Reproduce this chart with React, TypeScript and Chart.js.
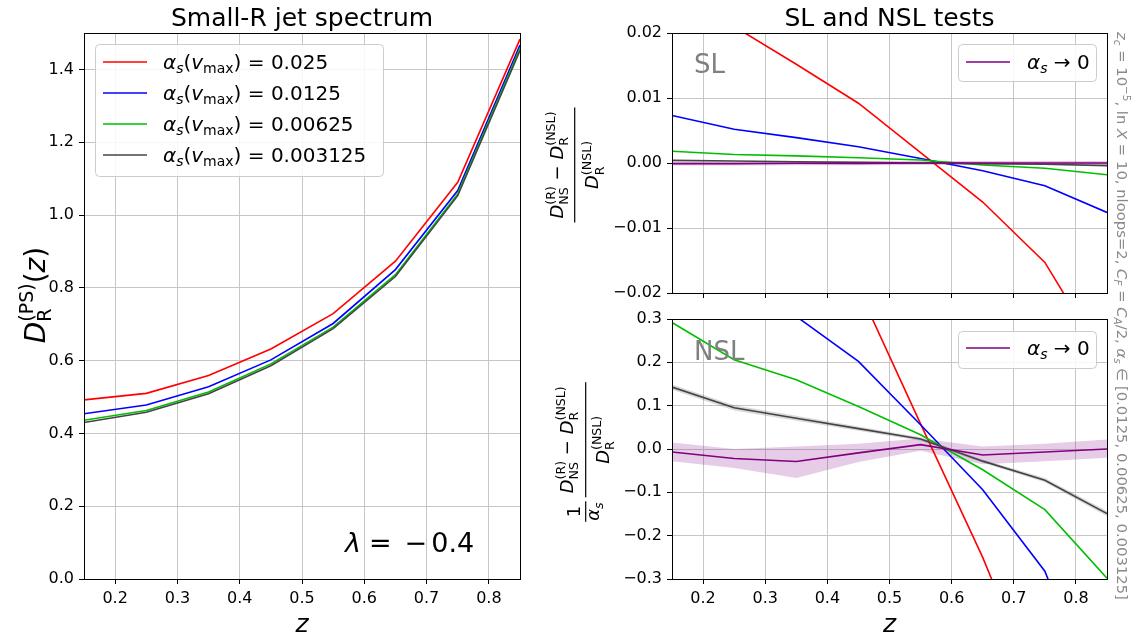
import React, { useEffect, useRef } from 'react';
import { Chart, registerables } from 'chart.js';

Chart.register(...registerables);

const W = 1134;
const H = 639;
const FAM = '"DejaVu Sans", "Liberation Sans", sans-serif';
const GRID = '#c6c6c6';

// ---------- data ----------
const zValues = [0.15, 0.25, 0.35, 0.45, 0.55, 0.65, 0.75, 0.85];
const alphaLabels = ['0.025', '0.0125', '0.00625', '0.003125'];
const seriesColors = ['#ff0000', '#0000ff', '#00bf00', '#444444'];
const limitColor = '#800080';

const spectrum025 = [0.492, 0.510, 0.559, 0.632, 0.729, 0.873, 1.090, 1.483];
const spectrum0125 = [0.454, 0.478, 0.528, 0.602, 0.702, 0.850, 1.067, 1.467];
const spectrum00625 = [0.436, 0.463, 0.514, 0.591, 0.692, 0.836, 1.058, 1.458];
const spectrum003125 = [0.430, 0.458, 0.509, 0.586, 0.688, 0.831, 1.053, 1.452];

const sl025 = [0.027, 0.021, 0.0152, 0.0092, 0.0016, -0.006, -0.0153, -0.031];
const sl0125 = [0.0073, 0.0052, 0.0039, 0.0025, 0.0007, -0.0012, -0.0035, -0.0076];
const sl00625 = [0.0018, 0.0013, 0.0011, 0.0008, 0.00045, -0.0003, -0.0008, -0.0018];
const sl003125 = [0.0004, 0.0003, 0.0002, 0.0001, 0.0, -0.0001, -0.0002, -0.0004];
const slLimit = [-0.0001, -0.0001, -0.00005, -0.00005, 0, 0, 0, 0];
const slLimitUpper = [0.0002, 0.0002, 0.00025, 0.00025, 0.0003, 0.0003, 0.0003, 0.0003];
const slLimitLower = [-0.0004, -0.0004, -0.00035, -0.00035, -0.0003, -0.0003, -0.0003, -0.0003];

const nsl025 = [1.3, 1.0, 0.68, 0.37, 0.058, -0.25, -0.6, -1.1];
const nsl0125 = [0.53, 0.42, 0.306, 0.202, 0.056, -0.094, -0.282, -0.64];
const nsl00625 = [0.292, 0.206, 0.16, 0.098, 0.033, -0.048, -0.14, -0.298];
const nsl003125 = [0.143, 0.095, 0.071, 0.047, 0.023, -0.028, -0.072, -0.149];
const nsl003125Upper = [0.149, 0.101, 0.077, 0.052, 0.027, -0.024, -0.067, -0.143];
const nsl003125Lower = [0.137, 0.089, 0.065, 0.042, 0.019, -0.032, -0.077, -0.155];
const nslLimit = [-0.007, -0.022, -0.029, -0.009, 0.010, -0.014, -0.007, 0.0];
const nslLimitUpper = [0.015, 0.0, 0.006, 0.012, 0.024, 0.006, 0.012, 0.022];
const nslLimitLower = [-0.028, -0.044, -0.067, -0.03, -0.004, -0.035, -0.028, -0.02];

const zTicks = [0.2, 0.3, 0.4, 0.5, 0.6, 0.7, 0.8];
const spectrumTicks = [0, 0.2, 0.4, 0.6, 0.8, 1.0, 1.2, 1.4];
const slTicks = [-0.02, -0.01, 0, 0.01, 0.02];
const nslTicks = [-0.3, -0.2, -0.1, 0, 0.1, 0.2, 0.3];

// ---------- helpers ----------
const pts = (ys: number[]) => zValues.map((x, i) => ({ x, y: ys[i] }));
const fmt = (v: number, d: number) => (v < -1e-12 ? '\u2212' : '') + Math.abs(v).toFixed(d);

type Seg = {
  t?: string; s: number; it?: boolean; dy?: number; dx?: number;
  sup?: string; sub?: string; supDy?: number; subDy?: number;
};
const fnt = (s: number, it?: boolean) => `${it ? 'italic ' : ''}${s}px ${FAM}`;
const T = (t: string, s: number, it = false, dy = 0, dx = 0): Seg => ({ t, s, it, dy, dx });
const SS = (sup: string, sub: string, s: number, supDy: number, subDy: number, it = false): Seg =>
  ({ sup, sub, s, supDy, subDy, it });

function segsWidth(ctx: CanvasRenderingContext2D, segs: Seg[]) {
  let w = 0;
  for (const g of segs) {
    ctx.font = fnt(g.s, g.it);
    w += g.dx || 0;
    if (g.sup !== undefined || g.sub !== undefined) {
      w += Math.max(g.sup ? ctx.measureText(g.sup).width : 0, g.sub ? ctx.measureText(g.sub).width : 0);
    } else {
      w += ctx.measureText(g.t || '').width;
    }
  }
  return w;
}

function drawSegs(ctx: CanvasRenderingContext2D, segs: Seg[], x: number, y: number) {
  let cx = x;
  ctx.textAlign = 'left';
  ctx.textBaseline = 'alphabetic';
  for (const g of segs) {
    cx += g.dx || 0;
    ctx.font = fnt(g.s, g.it);
    if (g.sup !== undefined || g.sub !== undefined) {
      let w = 0;
      if (g.sup) { ctx.fillText(g.sup, cx, y + (g.supDy || 0)); w = Math.max(w, ctx.measureText(g.sup).width); }
      if (g.sub) { ctx.fillText(g.sub, cx, y + (g.subDy || 0)); w = Math.max(w, ctx.measureText(g.sub).width); }
      cx += w;
    } else {
      ctx.fillText(g.t || '', cx, y + (g.dy || 0));
      cx += ctx.measureText(g.t || '').width;
    }
  }
  return cx - x;
}

function drawFrac(ctx: CanvasRenderingContext2D, num: Seg[], den: Seg[], x0: number, numY: number, denY: number, extra: number) {
  const nw = segsWidth(ctx, num);
  const dw = segsWidth(ctx, den);
  const w = Math.max(nw, dw) + extra;
  drawSegs(ctx, num, x0 + (w - nw) / 2, numY);
  drawSegs(ctx, den, x0 + (w - dw) / 2, denY);
  ctx.fillRect(x0, -0.6, w, 1.2);
  return w;
}

function fracWidth(ctx: CanvasRenderingContext2D, num: Seg[], den: Seg[], extra: number) {
  return Math.max(segsWidth(ctx, num), segsWidth(ctx, den)) + extra;
}

function legendBox(ctx: CanvasRenderingContext2D, x: number, y: number, w: number, h: number) {
  ctx.save();
  ctx.fillStyle = 'rgba(255,255,255,0.85)';
  ctx.strokeStyle = '#cccccc';
  ctx.lineWidth = 1;
  ctx.beginPath();
  if ((ctx as any).roundRect) (ctx as any).roundRect(x + 0.5, y + 0.5, w, h, 4);
  else ctx.rect(x + 0.5, y + 0.5, w, h);
  ctx.fill();
  ctx.stroke();
  ctx.restore();
}

function legendLine(ctx: CanvasRenderingContext2D, x1: number, x2: number, y: number, color: string) {
  ctx.save();
  ctx.strokeStyle = color;
  ctx.lineWidth = 1.6;
  ctx.beginPath();
  ctx.moveTo(x1, y);
  ctx.lineTo(x2, y);
  ctx.stroke();
  ctx.restore();
}

function spines(ctx: CanvasRenderingContext2D, a: any) {
  ctx.save();
  ctx.strokeStyle = '#000';
  ctx.lineWidth = 1;
  const l = Math.floor(a.left) + 0.5;
  const r = Math.floor(a.right) + 0.5;
  const t = Math.floor(a.top) + 0.5;
  const b = Math.floor(a.bottom) + 0.5;
  ctx.strokeRect(l, t, r - l, b - t);
  ctx.restore();
}

function lineDs(data: number[], color: string, order: number) {
  return { data: pts(data), borderColor: color, backgroundColor: color, borderWidth: 1.6, pointRadius: 0, fill: false, tension: 0, order, clip: 0 };
}
function bandDs(upper: number[], lower: number[], color: string, order: number) {
  return [
    { data: pts(upper), borderColor: 'rgba(0,0,0,0)', borderWidth: 0, backgroundColor: color, fill: '+1', pointRadius: 0, tension: 0, order, clip: 0 },
    { data: pts(lower), borderColor: 'rgba(0,0,0,0)', borderWidth: 0, backgroundColor: 'rgba(0,0,0,0)', fill: false, pointRadius: 0, tension: 0, order: order + 1, clip: 0 },
  ];
}

type Area = { l: number; t: number; r: number; b: number; padL: number };

function makeConfig(area: Area, yMin: number, yMax: number, yTicks: number[], yDigits: number,
  showXLabels: boolean, datasets: any[], draw: (ctx: CanvasRenderingContext2D, chart: any) => void): any {
  return {
    type: 'line',
    data: { datasets },
    options: {
      responsive: false,
      animation: false,
      devicePixelRatio: 1,
      events: [],
      layout: { padding: { left: area.padL, top: area.t, right: W - area.r, bottom: 0 } },
      plugins: { legend: { display: false }, tooltip: { enabled: false }, title: { display: false } },
      scales: {
        x: {
          type: 'linear', min: 0.15, max: 0.85,
          afterBuildTicks: (s: any) => { s.ticks = zTicks.map((v) => ({ value: v })); },
          afterFit: (s: any) => { s.height = H - area.b; },
          grid: { color: GRID, lineWidth: 1, drawTicks: true, tickLength: 5, tickColor: '#000', tickWidth: 1 },
          border: { display: true, color: '#000', width: 1 },
          ticks: {
            autoSkip: false, maxRotation: 0, minRotation: 0, padding: 5, color: '#000',
            font: { family: FAM, size: 16 },
            callback: (v: any) => (showXLabels ? fmt(Number(v), 1) : ''),
          },
        },
        y: {
          type: 'linear', min: yMin, max: yMax,
          afterBuildTicks: (s: any) => { s.ticks = yTicks.map((v) => ({ value: v })); },
          afterFit: (s: any) => { s.width = area.l - area.padL; },
          grid: { color: GRID, lineWidth: 1, drawTicks: true, tickLength: 5, tickColor: '#000', tickWidth: 1 },
          border: { display: true, color: '#000', width: 1 },
          ticks: {
            autoSkip: false, padding: 5, color: '#000',
            font: { family: FAM, size: 16 },
            callback: (v: any) => fmt(Number(v), yDigits),
          },
        },
      },
    },
    plugins: [{
      id: 'deco',
      afterDraw: (chart: any) => {
        const ctx = chart.ctx as CanvasRenderingContext2D;
        spines(ctx, chart.chartArea);
        ctx.save();
        ctx.fillStyle = '#000';
        draw(ctx, chart);
        ctx.restore();
      },
    }],
  };
}

// ---------- decorations ----------
function drawLeft(ctx: CanvasRenderingContext2D) {
  ctx.font = fnt(25);
  ctx.textAlign = 'center';
  ctx.textBaseline = 'alphabetic';
  ctx.fillText('Small-R jet spectrum', 302, 26);

  const yl: Seg[] = [T('D', 28, true), SS('(PS)', 'R', 19, -12, 6), T('(', 28), T('z', 28, true), T(')', 28)];
  ctx.save();
  ctx.translate(45, 295);
  ctx.rotate(-Math.PI / 2);
  drawSegs(ctx, yl, -segsWidth(ctx, yl) / 2, 0);
  ctx.restore();

  const xl: Seg[] = [T('z', 25, true)];
  drawSegs(ctx, xl, 302 - segsWidth(ctx, xl) / 2, 632);

  const lam: Seg[] = [T('\u03bb', 27, true), T('=', 27, false, 0, 8), T('\u2212', 27, false, 0, 13), T('0.4', 27, false, 0, 4)];
  drawSegs(ctx, lam, 345, 552);

  legendBox(ctx, 95, 44, 288, 132);
  const rows = [62, 93, 124, 155];
  alphaLabels.forEach((lab, i) => {
    legendLine(ctx, 103, 147, rows[i], seriesColors[i]);
    const segs: Seg[] = [
      T('\u03b1', 20, true), T('s', 14, true, 4), T('(', 20), T('v', 20, true), T('max', 14, false, 4),
      T(')', 20), T(' = ', 20), T(lab, 20),
    ];
    ctx.fillStyle = '#000';
    drawSegs(ctx, segs, 163, rows[i] + 7);
  });
}

function numSegs(): Seg[] {
  return [T('D', 18, true), SS('(R)', 'NS', 12.6, -7.5, 5.5), T(' \u2212 ', 18), T('D', 18, true), SS('(NSL)', 'R', 12.6, -7.5, 5.5)];
}
function denSegs(): Seg[] {
  return [T('D', 18, true), SS('(NSL)', 'R', 12.6, -7.5, 5.5)];
}

function drawSL(ctx: CanvasRenderingContext2D) {
  ctx.font = fnt(25);
  ctx.textAlign = 'center';
  ctx.textBaseline = 'alphabetic';
  ctx.fillText('SL and NSL tests', 889.5, 26);

  ctx.fillStyle = '#808080';
  ctx.font = fnt(26);
  ctx.textAlign = 'left';
  ctx.fillText('SL', 694, 73);

  ctx.fillStyle = '#000';
  legendBox(ctx, 958, 44, 138, 37);
  legendLine(ctx, 966, 1010, 62, limitColor);
  drawSegs(ctx, [T('\u03b1', 20, true), T('s', 14, true, 4), T(' \u2192 ', 20), T('0', 20)], 1027, 69);

  ctx.save();
  ctx.translate(574.7, 165);
  ctx.rotate(-Math.PI / 2);
  const w = fracWidth(ctx, numSegs(), denSegs(), 8);
  drawFrac(ctx, numSegs(), denSegs(), -w / 2, -12, 23.5, 8);
  ctx.restore();

  const s = 14.8;
  const ss = 10.4;
  const ann: Seg[] = [
    T('z', s, true), T('c', ss, true, 3), T(' = 10', s), T('\u22125', ss, false, -6), T(', ln ', s), T('X', s, true),
    T(' = 10, nloops=2, ', s), T('C', s, true), T('F', ss, true, 3), T(' = ', s), T('C', s, true), T('A', ss, true, 3),
    T('/2, ', s), T('\u03b1', s, true), T('s', ss, true, 3), T(' \u2208 [0.0125, 0.00625, 0.003125]', s),
  ];
  ctx.save();
  ctx.fillStyle = '#8a8a8a';
  ctx.translate(1117, 32);
  ctx.rotate(Math.PI / 2);
  drawSegs(ctx, ann, 0, 0);
  ctx.restore();
}

function drawNSL(ctx: CanvasRenderingContext2D) {
  ctx.fillStyle = '#808080';
  ctx.font = fnt(26);
  ctx.textAlign = 'left';
  ctx.textBaseline = 'alphabetic';
  ctx.fillText('NSL', 694, 360);

  ctx.fillStyle = '#000';
  legendBox(ctx, 958, 331, 138, 37);
  legendLine(ctx, 966, 1010, 348, limitColor);
  drawSegs(ctx, [T('\u03b1', 20, true), T('s', 14, true, 4), T(' \u2192 ', 20), T('0', 20)], 1027, 355);

  const xl: Seg[] = [T('z', 25, true)];
  drawSegs(ctx, xl, 889.5 - segsWidth(ctx, xl) / 2, 632);

  ctx.save();
  ctx.translate(585.7, 452);
  ctx.rotate(-Math.PI / 2);
  const sNum: Seg[] = [T('1', 18)];
  const sDen: Seg[] = [T('\u03b1', 18, true), T('s', 12.6, true, 4)];
  const w1 = fracWidth(ctx, sNum, sDen, 2);
  const w2 = fracWidth(ctx, numSegs(), denSegs(), 8);
  const gap = 4;
  const x0 = -(w1 + gap + w2) / 2;
  drawFrac(ctx, sNum, sDen, x0, -5.5, 13.5, 2);
  drawFrac(ctx, numSegs(), denSegs(), x0 + w1 + gap, -13, 23, 8);
  ctx.restore();
}

// ---------- configs ----------
function leftConfig() {
  const ds = [
    lineDs(spectrum025, seriesColors[0], 5),
    lineDs(spectrum0125, seriesColors[1], 4),
    lineDs(spectrum00625, seriesColors[2], 3),
    lineDs(spectrum003125, seriesColors[3], 2),
  ];
  return makeConfig({ l: 84, t: 33, r: 520, b: 579, padL: 0 }, 0, 1.5, spectrumTicks, 1, true, ds, drawLeft);
}

function slConfig() {
  const ds = [
    lineDs(sl025, seriesColors[0], 5),
    lineDs(sl0125, seriesColors[1], 4),
    lineDs(sl00625, seriesColors[2], 3),
    lineDs(sl003125, seriesColors[3], 2),
    lineDs(slLimit, limitColor, 1),
    ...bandDs(slLimitUpper, slLimitLower, 'rgba(128,0,128,0.22)', 20),
  ];
  return makeConfig({ l: 672, t: 33, r: 1107, b: 293, padL: 600 }, -0.02, 0.02, slTicks, 2, false, ds, drawSL);
}

function nslConfig() {
  const ds = [
    lineDs(nsl025, seriesColors[0], 5),
    lineDs(nsl0125, seriesColors[1], 4),
    lineDs(nsl00625, seriesColors[2], 3),
    lineDs(nsl003125, seriesColors[3], 2),
    lineDs(nslLimit, limitColor, 1),
    ...bandDs(nslLimitUpper, nslLimitLower, 'rgba(128,0,128,0.2)', 20),
    ...bandDs(nsl003125Upper, nsl003125Lower, 'rgba(0,0,0,0.15)', 30),
  ];
  return makeConfig({ l: 672, t: 319, r: 1107, b: 579, padL: 600 }, -0.3, 0.3, nslTicks, 1, true, ds, drawNSL);
}

export default function App() {
  const r1 = useRef<HTMLCanvasElement>(null);
  const r2 = useRef<HTMLCanvasElement>(null);
  const r3 = useRef<HTMLCanvasElement>(null);

  useEffect(() => {
    const charts = [
      new Chart(r1.current as HTMLCanvasElement, leftConfig()),
      new Chart(r2.current as HTMLCanvasElement, slConfig()),
      new Chart(r3.current as HTMLCanvasElement, nslConfig()),
    ];
    return () => charts.forEach((c) => c.destroy());
  }, []);

  const cs: React.CSSProperties = { position: 'absolute', left: 0, top: 0, width: W, height: H };
  return (
    <div style={{ position: 'fixed', left: 0, top: 0, width: W, height: H, background: '#fff', overflow: 'hidden' }}>
      <canvas ref={r1} width={W} height={H} style={cs} />
      <canvas ref={r2} width={W} height={H} style={cs} />
      <canvas ref={r3} width={W} height={H} style={cs} />
    </div>
  );
}
